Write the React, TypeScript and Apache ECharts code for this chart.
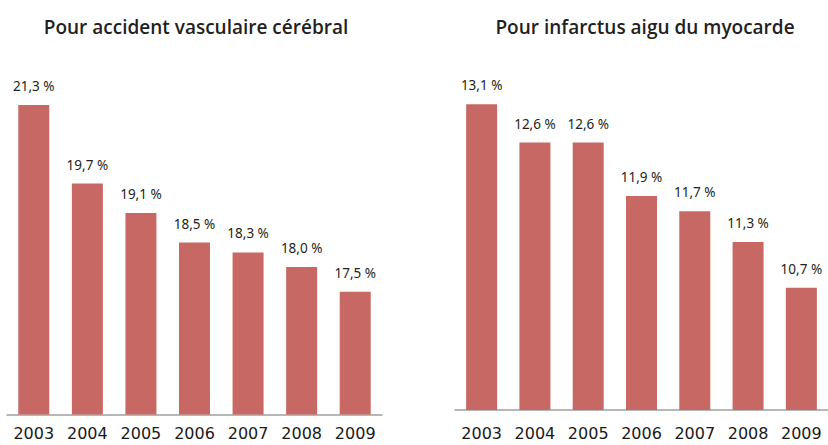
import React, { useEffect, useRef } from "react";
import * as echarts from "echarts";

const years = ["2003", "2004", "2005", "2006", "2007", "2008", "2009"];
const avcValues = [21.3, 19.7, 19.1, 18.5, 18.3, 18.0, 17.5];
const imaValues = [13.1, 12.6, 12.6, 11.9, 11.7, 11.3, 10.7];
const titles = ["Pour accident vasculaire cérébral", "Pour infarctus aigu du myocarde"];

const BAR = "#c86864";
const TEXT = "#231f20";

const fmt = (v: number) => v.toFixed(1).replace(".", ",") + " %";

export default function App() {
  const ref = useRef<HTMLDivElement>(null);
  useEffect(() => {
    document.body.style.margin = "0";
    if (!ref.current) return;
    const chart = echarts.init(ref.current, null, { renderer: "svg" });
    const labelFont = {
      show: true,
      position: "top" as const,
      distance: 12,
      fontFamily: "'Noto Sans', sans-serif",
      fontSize: 13.5,
      color: TEXT,
      formatter: (p: any) => fmt(p.value),
    };
    const xCommon = (gridIndex: number, margin: number) => ({
      type: "category" as const,
      gridIndex,
      data: years,
      axisTick: { show: false },
      axisLine: { show: true, lineStyle: { color: "#a0a0a0", width: 1.5 } },
      axisLabel: {
        margin,
        fontFamily: "'DejaVu Sans', sans-serif",
        fontSize: 16,
        color: "#1a1a1a",
      },
    });
    chart.setOption({
      animation: false,
      backgroundColor: "#ffffff",
      title: [
        {
          text: titles[0],
          left: 191,
          top: 12,
          textAlign: "center",
          textStyle: { fontFamily: "'Open Sans', sans-serif", fontWeight: 600, fontSize: 19, color: TEXT },
        },
        {
          text: titles[1],
          left: 640,
          top: 12,
          textAlign: "center",
          textStyle: { fontFamily: "'Open Sans', sans-serif", fontWeight: 600, fontSize: 19, color: TEXT },
        },
      ],
      grid: [
        { left: 7, width: 375, top: 70.6, bottom: 30.5 },
        { left: 455, width: 375, top: 73.8, bottom: 35 },
      ],
      xAxis: [xCommon(0, 11), xCommon(1, 15)],
      yAxis: [
        { type: "value", gridIndex: 0, min: 15, max: 22, show: false, splitLine: { show: false } },
        { type: "value", gridIndex: 1, min: 9.1, max: 13.5, show: false, splitLine: { show: false } },
      ],
      series: [
        {
          type: "bar",
          xAxisIndex: 0,
          yAxisIndex: 0,
          data: avcValues,
          barWidth: 31,
          itemStyle: { color: BAR },
          label: labelFont,
        },
        {
          type: "bar",
          xAxisIndex: 1,
          yAxisIndex: 1,
          data: imaValues,
          barWidth: 31,
          itemStyle: { color: BAR },
          label: labelFont,
        },
      ],
    });
    return () => chart.dispose();
  }, []);
  return <div ref={ref} style={{ width: 828, height: 445 }} />;
}
